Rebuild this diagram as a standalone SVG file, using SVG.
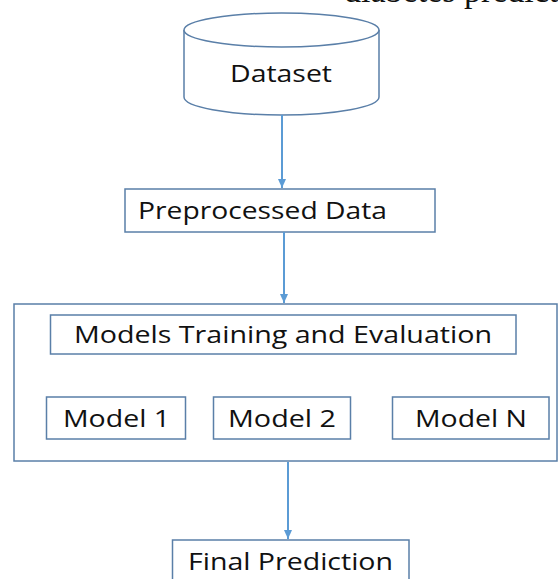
<svg xmlns="http://www.w3.org/2000/svg" width="558" height="579" viewBox="0 0 558 579">
<style>
.box{fill:#ffffff;stroke:#5a7fa8;stroke-width:1.5}
.lbl{font-family:"Open Sans","DejaVu Sans",sans-serif;font-size:24px;fill:#111111}
.conn{stroke:#5b9bd5;stroke-width:2;fill:none}
.top{font-family:"Liberation Serif",serif;font-size:34px;fill:#111111}
</style>
<defs>
<marker id="ah" markerWidth="9" markerHeight="8" refX="9" refY="4" orient="auto" markerUnits="userSpaceOnUse">
<path d="M0,0 L9,4 L0,8 Z" fill="#5b9bd5"/>
</marker>
</defs>
<rect width="558" height="579" fill="#ffffff"/>
<text class="top" x="344" y="2">diabetes prediction</text>
<g id="dataset">
<path class="box" d="M184,30 L184,97 A97.5,18 0 0 0 379,97 L379,30"/>
<ellipse class="box" cx="281.5" cy="30" rx="97.5" ry="17"/>
<text class="lbl" x="230" y="82" textLength="102" lengthAdjust="spacingAndGlyphs">Dataset</text>
</g>
<g id="preprocessed">
<rect class="box" x="125" y="189" width="310" height="43"/>
<text class="lbl" x="138" y="219" textLength="249" lengthAdjust="spacingAndGlyphs">Preprocessed Data</text>
</g>
<g id="training">
<rect class="box" x="14" y="304" width="543" height="157"/>
<rect class="box" x="50.5" y="315" width="465.5" height="39"/>
<text class="lbl" x="74" y="343" textLength="418" lengthAdjust="spacingAndGlyphs">Models Training and Evaluation</text>
</g>
<g id="model1">
<rect class="box" x="46.5" y="397" width="139" height="42"/>
<text class="lbl" x="63" y="427" textLength="107" lengthAdjust="spacingAndGlyphs">Model 1</text>
</g>
<g id="model2">
<rect class="box" x="213.5" y="397" width="137" height="42"/>
<text class="lbl" x="228" y="427" textLength="108" lengthAdjust="spacingAndGlyphs">Model 2</text>
</g>
<g id="modelN">
<rect class="box" x="392.5" y="397" width="156.5" height="42"/>
<text class="lbl" x="415" y="427" textLength="112" lengthAdjust="spacingAndGlyphs">Model N</text>
</g>
<g id="final">
<rect class="box" x="172.5" y="540" width="236.5" height="60"/>
<text class="lbl" x="188" y="570" textLength="205" lengthAdjust="spacingAndGlyphs">Final Prediction</text>
</g>
<g id="connectors">
<line class="conn" x1="282" y1="115" x2="282" y2="188" marker-end="url(#ah)"/>
<line class="conn" x1="284" y1="232" x2="284" y2="303" marker-end="url(#ah)"/>
<line class="conn" x1="288" y1="462" x2="288" y2="539" marker-end="url(#ah)"/>
</g>
</svg>
